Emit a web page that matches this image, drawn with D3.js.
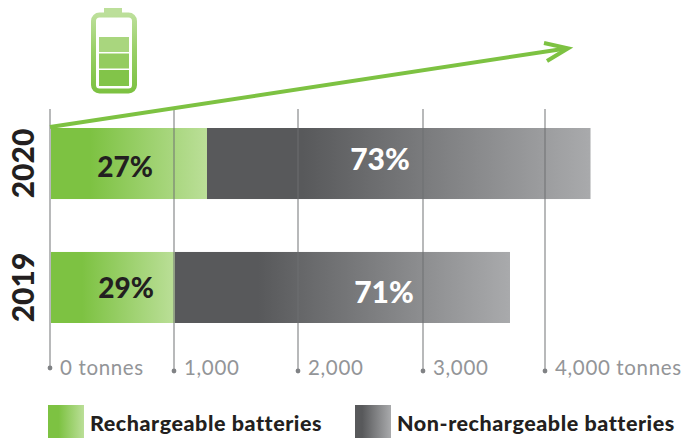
<!DOCTYPE html>
<html><head><meta charset="utf-8">
<script src="https://cdn.jsdelivr.net/npm/d3@7"></script>
<style>html,body{margin:0;padding:0;background:#fff}svg{display:block}text{font-family:Lato,"Open Sans",sans-serif}</style>
</head><body><svg id="c" width="685" height="438"></svg>
<script>
const years = ["2020","2019"];
const rechargeable = [1262,1003];
const nonRechargeable = [3107,2706];
const shareLabelsR = ["27%","29%"];
const shareLabelsN = ["73%","71%"];
const tickValues = [0,1000,2000,3000,4000];
const tickPixels = [50.5,174.5,298.5,423.5,545.5];
const tickLabels = ["0 tonnes","1,000","2,000","3,000","4,000 tonnes"];
const legendLabels = ["Rechargeable batteries","Non-rechargeable batteries"];
const green = "#7dc242", dark = "#58595b";

const svg = d3.select("#c");
const x = d3.scaleLinear().domain(tickValues).range(tickPixels);
const y = d3.scaleBand().domain(years).range([128,323]).paddingInner(0.427).paddingOuter(0);
const defs = svg.append("defs");
function grad(id,stops){
  const g = defs.append("linearGradient").attr("id",id).attr("x1","0").attr("x2","1").attr("y1","0").attr("y2","0");
  stops.forEach(s=>g.append("stop").attr("offset",s[0]).attr("stop-color",s[1]));
}
grad("gG",[[0,green],[0.25,green],[1,"#bbdf98"]]);
grad("gD",[[0,dark],[0.25,dark],[1,"#a9aaac"]]);
grad("gL",[[0,green],[0.3,green],[1,"#bbdf98"]]);
grad("gLD",[[0,dark],[0.2,dark],[1,"#a9aaac"]]);
const bv = defs.append("linearGradient").attr("id","gV").attr("x1","0").attr("x2","0").attr("y1","0").attr("y2","1");
[[0,"#bcdf9a"],[0.45,"#9ad068"],[1,green]].forEach(s=>bv.append("stop").attr("offset",s[0]).attr("stop-color",s[1]));

// bars
svg.selectAll("rect.r").data(years).join("rect").attr("class","r")
  .attr("x",x(0)+0.5).attr("y",d=>y(d)).attr("height",y.bandwidth())
  .attr("width",(d,i)=>x(rechargeable[i])-x(0)-0.5).attr("fill","url(#gG)");
svg.selectAll("rect.n").data(years).join("rect").attr("class","n")
  .attr("x",(d,i)=>x(rechargeable[i])).attr("y",d=>y(d)).attr("height",y.bandwidth())
  .attr("width",(d,i)=>x(rechargeable[i]+nonRechargeable[i])-x(rechargeable[i])).attr("fill","url(#gD)");

// gridlines with end dots
const tickBottom = [368,371,371,371,371];
svg.selectAll("line.g").data(tickValues).join("line").attr("class","g")
  .attr("x1",d=>x(d)-0.5).attr("x2",d=>x(d)-0.5).attr("y1",109).attr("y2",(d,i)=>tickBottom[i])
  .attr("stroke","#6d6e71").attr("stroke-opacity",0.65).attr("stroke-width",1.5);
svg.selectAll("circle.g").data(tickValues).join("circle").attr("class","g")
  .attr("cx",d=>x(d)-0.5).attr("cy",(d,i)=>tickBottom[i]).attr("r",2.4).attr("fill","#808285");
svg.selectAll("text.t").data(tickValues).join("text").attr("class","t")
  .attr("x",d=>x(d)+9.5).attr("y",375).attr("font-size",20.5).attr("letter-spacing",0.65).attr("fill","#939598")
  .text((d,i)=>tickLabels[i]);

// year labels
svg.selectAll("text.y").data(years).join("text").attr("class","y")
  .attr("transform",d=>`translate(34,${y(d)+y.bandwidth()/2}) rotate(-90)`)
  .attr("text-anchor","middle").attr("font-size",30).attr("font-weight",900).attr("fill","#231f20").text(d=>d);

// share labels
const rLabelX=[125,126], nLabelX=[380,384];
const rLabelDy=[13.5,11], nLabelDy=[6.5,16];
svg.selectAll("text.sr").data(years).join("text").attr("class","sr")
  .attr("x",(d,i)=>rLabelX[i]).attr("y",(d,i)=>y(d)+y.bandwidth()/2+rLabelDy[i])
  .attr("text-anchor","middle").attr("font-size",28).attr("font-weight",900).attr("fill","#231f20").text((d,i)=>shareLabelsR[i]);
svg.selectAll("text.sn").data(years).join("text").attr("class","sn")
  .attr("x",(d,i)=>nLabelX[i]).attr("y",(d,i)=>y(d)+y.bandwidth()/2+nLabelDy[i])
  .attr("text-anchor","middle").attr("font-size",30).attr("font-weight",900).attr("fill","#fff").text((d,i)=>shareLabelsN[i]);

// arrow
const arrow = svg.append("g").attr("fill","none").attr("stroke",green).attr("stroke-width",4);
arrow.append("path").attr("d",d3.line()([[50,127],[566,48.5]]));
arrow.append("path").attr("d",d3.line()([[544,43],[568,48.3],[547,61]]));

// battery
const b = svg.append("g");
b.append("rect").attr("x",104).attr("y",8).attr("width",18).attr("height",7).attr("fill","#bcdf9a");
b.append("rect").attr("x",93.5).attr("y",15).attr("width",41).attr("height",76).attr("rx",6)
  .attr("fill","#fff").attr("stroke","url(#gV)").attr("stroke-width",5);
[[37,52],[53.5,68.5],[70,86]].forEach(r=>{
  b.append("rect").attr("x",99).attr("y",r[0]).attr("width",30).attr("height",r[1]-r[0])
   .attr("fill",r[0]<40?"#a9d67e":r[0]<60?"#94cc5f":"#82c449");
});

// legend
svg.append("rect").attr("x",48).attr("y",405).attr("width",36).attr("height",33).attr("fill","url(#gL)");
svg.append("rect").attr("x",355).attr("y",405).attr("width",36).attr("height",33).attr("fill","url(#gLD)");
svg.append("text").attr("x",90).attr("y",431).attr("font-size",21.5).attr("font-weight",900).attr("letter-spacing",0.55).attr("fill","#231f20").text(legendLabels[0]);
svg.append("text").attr("x",397).attr("y",431).attr("font-size",21.5).attr("font-weight",900).attr("letter-spacing",0.55).attr("fill","#231f20").text(legendLabels[1]);
</script></body></html>
